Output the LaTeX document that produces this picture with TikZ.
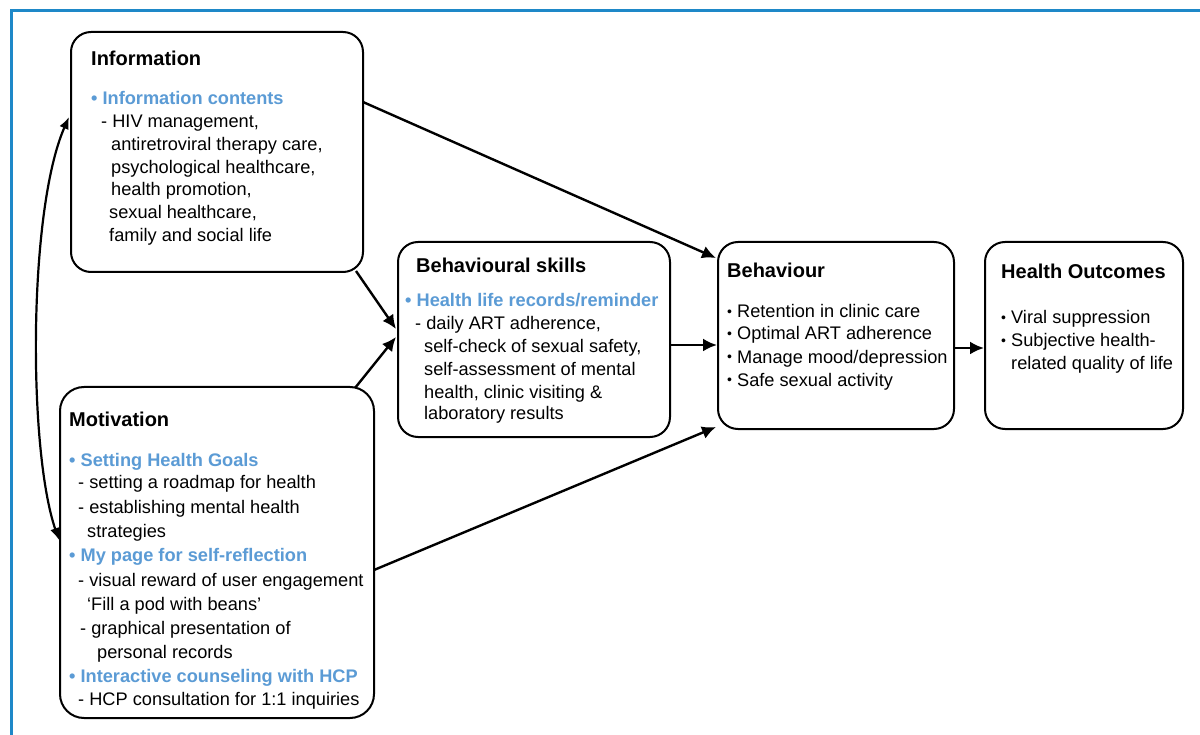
\documentclass[tikz,border=0pt]{standalone}
\usepackage{fontspec}
\setmainfont{Liberation Sans}
\usetikzlibrary{arrows.meta}
\definecolor{frameblue}{HTML}{1E88C8}
\definecolor{hblue}{HTML}{5B9BD5}
\newcommand\sbul{\raisebox{0.12ex}{\fontsize{14}{14}\selectfont•}}
\begin{document}
\begin{tikzpicture}[x=1pt,y=-1pt,
 box/.style={draw, line width=2pt, rounded corners=20pt, inner sep=0},
 t/.style={anchor=base west, inner sep=0, font=\fontsize{18.2}{22}\selectfont},
 tb/.style={anchor=base west, inner sep=0, font=\fontsize{18.2}{22}\selectfont\bfseries, text=hblue},
 ttl/.style={anchor=base west, inner sep=0, font=\fontsize{20}{24}\selectfont\bfseries},
 arr/.style={line width=2.4pt, -{Latex[length=14pt,width=13pt]}},
 darr/.style={line width=2.2pt, {Latex[length=12pt,width=10pt]}-{Latex[length=12pt,width=10pt]}}]
\useasboundingbox (0,0) rectangle (1200,735);
\fill[white] (0,0) rectangle (1200,735);
\draw[frameblue, line width=3pt] (11,735) -- (11,11) -- (1200,11);

% boxes
\node[box, minimum width=292pt, minimum height=240pt] (info) at (217,152) {};
\node[box, minimum width=314pt, minimum height=331pt, rounded corners=24pt] (mot) at (217,552.5) {};
\node[box, minimum width=272pt, minimum height=195pt] (bs) at (534,339.5) {};
\node[box, minimum width=236pt, minimum height=187pt] (beh) at (836,335.5) {};
\node[box, minimum width=198pt, minimum height=187pt] (ho) at (1084,335.5) {};

% Information text
\node[ttl] (i0) at (91,66) {Information};
\node[tb] (i1) at (91,105) {• Information contents};
\node[t] (i2) at (101,128) {- HIV management,};
\node[t] (i3) at (111,151) {antiretroviral therapy care,};
\node[t] (i4) at (111,174) {psychological healthcare,};
\node[t] (i5) at (111,196) {health promotion,};
\node[t] (i6) at (109,219) {sexual healthcare,};
\node[t] (i7) at (109,242) {family and social life};

% Motivation text
\node[ttl] (m0) at (69,426) {Motivation};
\node[tb] (m1) at (69,466) {• Setting Health Goals};
\node[t] (m2) at (78,488) {- setting a roadmap for health};
\node[t] (m3) at (78,513) {- establishing mental health};
\node[t] (m4) at (87,537) {strategies};
\node[tb] (m5) at (69,561) {• My page for self-reflection};
\node[t] (m6) at (78,586) {- visual reward of user engagement};
\node[t] (m7) at (87,610) {‘Fill a pod with beans’};
\node[t] (m8) at (80,634) {- graphical presentation of};
\node[t] (m9) at (97,658) {personal records};
\node[tb] (m10) at (69,682) {• Interactive counseling with HCP};
\node[t] (m11) at (78,705) {- HCP consultation for 1:1 inquiries};

% Behavioural skills text
\node[ttl] (s0) at (416,273) {Behavioural skills};
\node[tb] (s1) at (405,307) {• Health life records/reminder};
\node[t] (s2) at (415,330) {- daily ART adherence,};
\node[t] (s3) at (424,353) {self-check of sexual safety,};
\node[t] (s4) at (424,376) {self-assessment of mental};
\node[t] (s5) at (424,399) {health, clinic visiting \&};
\node[t] (s6) at (424,420) {laboratory results};

% Behaviour text
\node[ttl] (b0) at (727,278) {Behaviour};
\node[t] (b1) at (727,318) {\sbul\ Retention in clinic care};
\node[t] (b2) at (727,340) {\sbul\ Optimal ART adherence};
\node[t] (b3) at (727,363) {\sbul\ Manage mood/depression};
\node[t] (b4) at (727,386) {\sbul\ Safe sexual activity};

% Health outcomes text
\node[ttl] (h0) at (1001,279) {Health Outcomes};
\node[t] (h1) at (1001,324) {\sbul\ Viral suppression};
\node[t] (h2) at (1001,347) {\sbul\ Subjective health-};
\node[t] (h3) at (1011,370) {related quality of life};

% connector endpoints
\coordinate (iA) at (363,102);
\coordinate (bA) at (716,258);
\coordinate (iB) at (356,271);
\coordinate (sA) at (396,329);
\coordinate (mA) at (355,388);
\coordinate (sB) at (396,337);
\coordinate (mB) at (374,570);
\coordinate (bB) at (716,427);
\coordinate (sC) at (670,345);
\coordinate (bC) at (717,345);
\coordinate (bD) at (954,348);
\coordinate (hA) at (984,348);
\coordinate (iC) at (69,117);
\coordinate (mC) at (59,540);

\draw[arr] (iA) -- (bA);
\draw[arr] (iB) -- (sA);
\draw[arr] (mA) -- (sB);
\draw[arr] (mB) -- (bB);
\draw[arr] (sC) -- (bC);
\draw[arr] (bD) -- (hA);
\draw[darr] (iC) .. controls (28,210) and (28,450) .. (mC);
\end{tikzpicture}
\end{document}
